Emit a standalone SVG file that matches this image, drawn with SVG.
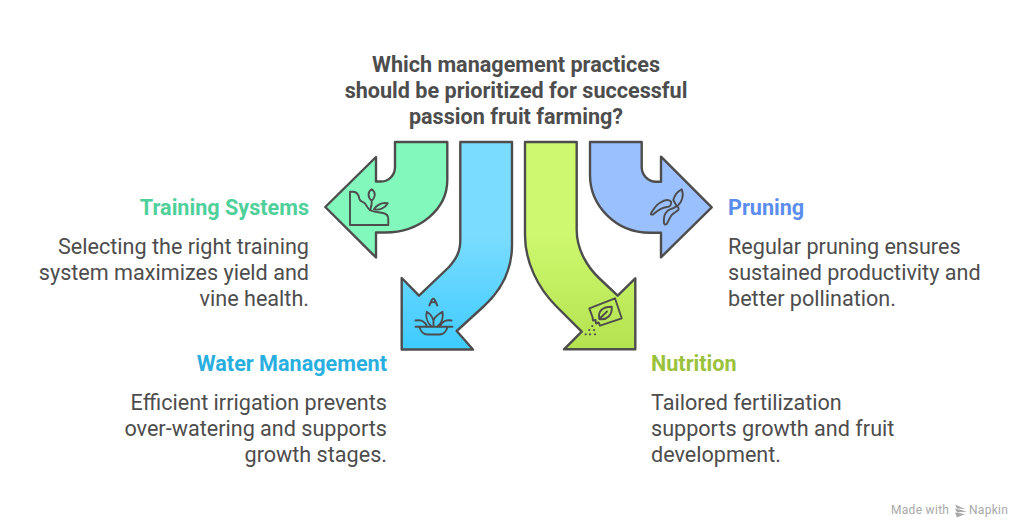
<svg xmlns="http://www.w3.org/2000/svg" width="1024" height="529" viewBox="0 0 1024 529">
<style>
.a{stroke:#4d4d4d;stroke-width:2.4;stroke-linejoin:round;stroke-linecap:round}
.i{fill:none;stroke:#4d4d4d;stroke-width:1.9;stroke-linejoin:round;stroke-linecap:round}
.d{fill:#4d4d4d}
text{font-family:Roboto,"Liberation Sans",sans-serif;font-size:21.6px;fill:#4d4d4d}
.t{font-weight:700;text-anchor:middle}
.h{font-weight:700}
.r{text-anchor:end}
.f{font-size:12px;fill:#a8a8a8;letter-spacing:.3px}
</style>
<defs>
<linearGradient id="gb" x1="0" y1="0" x2="0" y2="1"><stop offset="0.45" stop-color="#7adcff"/><stop offset="1" stop-color="#3ecbff"/></linearGradient>
<linearGradient id="gl" x1="0" y1="0" x2="0" y2="1"><stop offset="0.45" stop-color="#cdf86f"/><stop offset="1" stop-color="#b4e24f"/></linearGradient>
</defs>
<rect width="1024" height="529" fill="#fff"/>
<g id="title"><text class="t" x="516" y="72">Which management practices</text><text class="t" x="516" y="98">should be prioritized for successful</text><text class="t" x="516" y="124">passion fruit farming?</text></g>
<g id="connectors">
<path class="a" fill="#83f8bc" d="M395 142H447.3V180C447.3 209 420 232.5 385 232.5H376V257.5L325.3 207L376 157V181.5H381C389 181.500 395 175 395 167Z"/>
<path class="a" fill="url(#gb)" d="M460.3 142H512V245C512 270 502 290 483 307L456.7 331L473 349.5H401.7V278L419 295.7L449 267C456 259 460.3 252 460.3 240Z"/>
<path class="a" fill="url(#gl)" d="M525 142H576.700V230C576.700 250 588 268 600 279L617.700 295.700L635.300 278.300V349.300H564L581.700 331.700L556 306C538 288 525 262 525 235Z"/>
<path class="a" fill="#9ac0fd" d="M590 142H641.700V167C641.700 175 648 181.700 656 181.700H661V156.700L711.700 207.300L661 257.300V232.700H650C615 232.700 590 205 590 175Z"/>
</g>
<g id="node-training">
<path class="i" d="M350 191.700V225H388.300V219C388.300 215 385.500 213.500 383 213C378 212 373 212 370 210C367 208 366.500 204.500 364.500 203C362.500 201.500 360 201.500 359.500 199C359 196 357.500 191.700 353 191.700Z"/>
<path class="i" d="M370 210C371.500 207 372 204 371.700 200.700M371.700 200.700C367.500 197 367.500 192 371.700 189.300C375.800 192 375.800 197 371.700 200.700ZM374 209.300C378 203.500 383 202.500 387.700 203.300C385 208.500 379 210.500 374 209.300Z"/>
<text class="h r" x="309" y="215" style="fill:#4fd09a">Training Systems</text>
<text class="r" x="309" y="254">Selecting the right training</text><text class="r" x="309" y="280">system maximizes yield and</text><text class="r" x="309" y="306">vine health.</text>
</g>
<g id="node-water">
<path class="i" d="M415.500 326.700H452.500M419.500 327C420.500 331 423.500 334.500 427.500 334.500H439.500C443.500 334.500 446.500 331 447.500 327"/>
<path class="i" d="M429.300 305.500L432 299.500Q433.300 298 434.600 299.500L437.300 305.500M430.500 303C432.500 301.800 434.500 301.800 436.500 303"/>
<path class="i" d="M415.500 320.500C421 319.500 425.500 322 427 326.500M451.500 320.500C446 319.500 441.500 322 440 326.500M426.700 311.700C425.500 317 427.500 323 431.500 326.500M442.500 311.700C443.500 317 441.500 323 437.500 326.500M426.700 311.700C430.500 314 432.500 317 433.500 320.500C434.500 317 438.500 314 442.500 311.700M433.500 320.500V326"/>
<text class="h r" x="387" y="371" style="fill:#29afdf">Water Management</text>
<text class="r" x="387" y="410">Efficient irrigation prevents</text><text class="r" x="387" y="436">over-watering and supports</text><text class="r" x="387" y="462">growth stages.</text>
</g>
<g id="node-nutrition">
<path class="i" d="M589.300 308.300L615 298.300L621.700 318.300L600 325.700L598.500 322.500L596 323.500L595.500 320L593 320.500L592.500 317Z"/>
<path class="i" d="M599.300 319C597.500 311 603 306.500 611.700 306.700C612.500 315 607 320.500 599.300 319ZM599.300 319L607 311.500"/>
<circle class="d" cx="592.300" cy="326" r="1.1"/><circle class="d" cx="589.300" cy="330" r="1.1"/><circle class="d" cx="594" cy="330" r="1.1"/><circle class="d" cx="585.700" cy="334.300" r="1.1"/><circle class="d" cx="590" cy="334.300" r="1.1"/><circle class="d" cx="595" cy="334.300" r="1.1"/>
<text class="h" x="651" y="371" style="fill:#9ac23c">Nutrition</text>
<text x="651" y="410">Tailored fertilization</text><text x="651" y="436">supports growth and fruit</text><text x="651" y="462">development.</text>
</g>
<g id="node-pruning">
<path class="i" d="M651 213.300C654 208 657 204.500 660 202.700C664 200 668 198.500 671 201.700C672 204 670 206.500 668.300 206.700C664 207 660 208 653.300 214.300C651.500 215 650.500 214.500 651 213.300Z"/>
<path class="i" d="M664 223.300C663.500 219 664.500 215 665.700 213C667 211 668 210 670 209.300C673 208.500 675 207.500 676.700 206C678.500 207 679 209 678.300 210C676 212 673.500 213 671.700 215C669.500 218 668.500 221 666.700 224C665.500 225 664.500 224.500 664 223.300Z"/>
<path class="i" d="M673.300 200C674.500 195.500 677 191.500 681.700 189.300C683 193 683 196 682.300 198.300C681.500 201 680 203.500 678.300 205M673.300 200L676.700 206"/>
<text class="h" x="728" y="215" style="fill:#5b8def">Pruning</text>
<text x="728" y="254">Regular pruning ensures</text><text x="728" y="280">sustained productivity and</text><text x="728" y="306">better pollination.</text>
</g>
<g id="footer"><text class="f" x="891" y="514">Made with</text><path d="M955 504.500L965 509L957 508.500ZM955 508.500L967 511.500L957 512.500ZM955 512.500L965 514L957 517.500Z" fill="#a8a8a8"/><text class="f" x="969" y="514">Napkin</text></g>
</svg>
